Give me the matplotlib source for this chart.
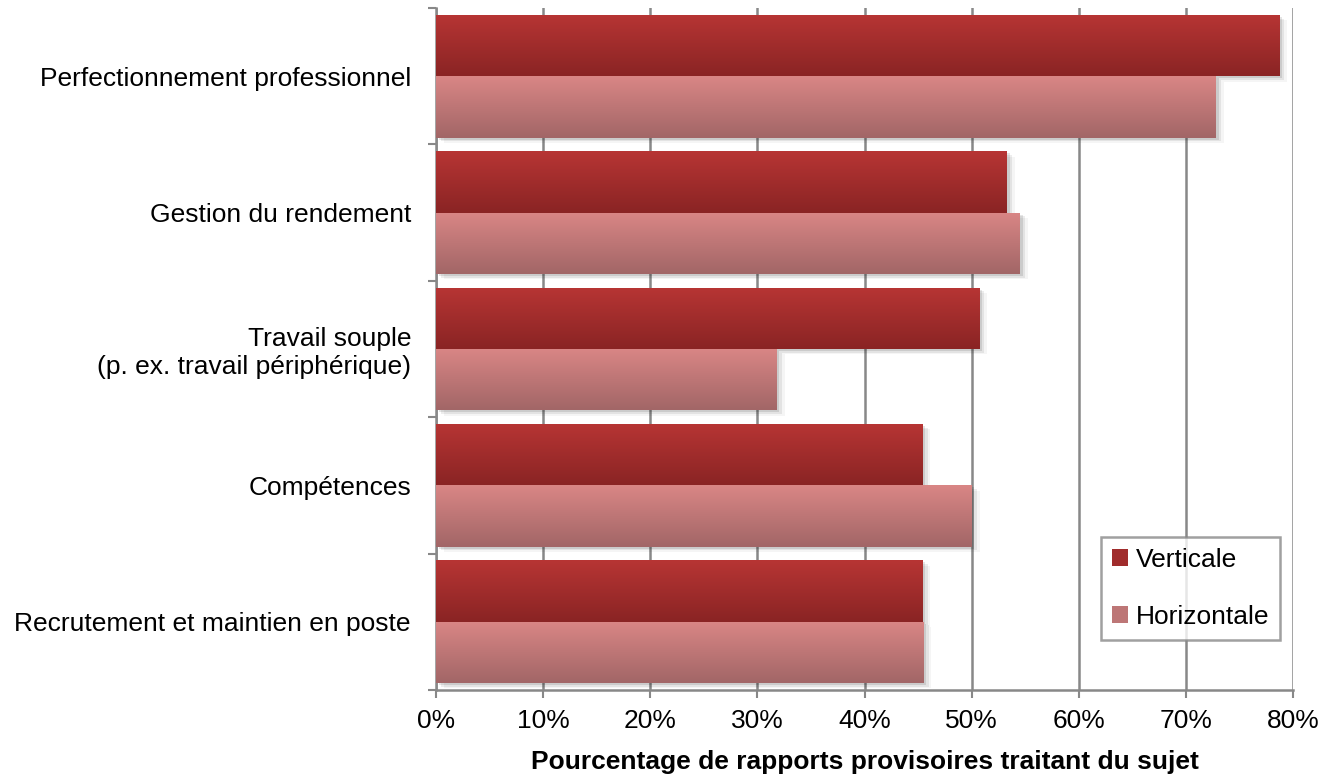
import numpy as np
import matplotlib.pyplot as plt
from matplotlib.colors import LinearSegmentedColormap
from matplotlib.patches import Patch

plt.rcParams['font.family'] = ['Liberation Sans', 'DejaVu Sans']

categories = [
    "Perfectionnement professionnel",
    "Gestion du rendement",
    "Travail souple\n(p. ex. travail périphérique)",
    "Compétences",
    "Recrutement et maintien en poste",
]
verticale = [78.7, 53.3, 50.7, 45.4, 45.4]
horizontale = [72.8, 54.5, 31.8, 50.0, 45.5]
series_names = ["Verticale", "Horizontale"]
xticks = [0, 10, 20, 30, 40, 50, 60, 70, 80]

# colour ramps: index 0 = top edge of a bar, 1 = bottom edge
grad_v = LinearSegmentedColormap.from_list("gv", ["#B73534", "#8A2424"])
grad_h = LinearSegmentedColormap.from_list("gh", ["#D98685", "#A26667"])

fig = plt.figure(figsize=(13.37, 7.8), dpi=100)
ax = fig.add_axes([436 / 1337, 90 / 780, (1293 - 436) / 1337, (772 - 90) / 780])

n = len(categories)
y = np.arange(n)
h = 0.45


def gradient_bars(ypos, vals, cmap):
    bars = ax.barh(ypos, vals, height=h, color=cmap(0.5), zorder=3)
    grad = np.linspace(0, 1, 64).reshape(-1, 1)
    for b in bars:
        x0, y0 = b.get_x(), b.get_y()
        w, hh = b.get_width(), b.get_height()
        # soft drop shadow
        for k, a in enumerate([0.10, 0.07, 0.04]):
            off = 0.25 + 0.25 * k
            ax.add_patch(plt.Rectangle((x0 + off, y0 + 0.015 + 0.012 * k), w, hh,
                                       color="black", alpha=a, lw=0, zorder=2))
        # row 0 of the image sits at the smaller y value (top of the bar on screen)
        im = ax.imshow(grad, cmap=cmap, aspect="auto",
                       extent=[x0, x0 + w, y0 + hh, y0], origin="upper",
                       zorder=3.5, interpolation="bicubic")
        im.set_clip_path(b)
    return bars


gradient_bars(y - h / 2, verticale, grad_v)
gradient_bars(y + h / 2, horizontale, grad_h)

ax.set_xlim(0, 80)
ax.set_ylim(n - 0.5, -0.5)
ax.set_xticks(xticks)
ax.set_xticklabels([f"{t}%" for t in xticks], fontsize=19)
ax.set_yticks(y)
ax.set_yticklabels(categories, fontsize=19, ha="right")
ax.tick_params(axis="y", length=0, pad=18)
ax.set_yticks(np.arange(n + 1) - 0.5, minor=True)
ax.tick_params(axis="y", which="minor", length=6, width=1.5, color="#888888")
ax.tick_params(axis="x", length=6, width=1.5, color="#888888", pad=8)

ax.grid(axis="x", color="#888888", lw=1.8, zorder=1)
ax.set_axisbelow(True)
for s in ["top", "right"]:
    ax.spines[s].set_visible(False)
for s in ["left", "bottom"]:
    ax.spines[s].set_color("#888888")
    ax.spines[s].set_linewidth(1.8)

ax.set_xlabel("Pourcentage de rapports provisoires traitant du sujet",
              fontsize=19, fontweight="bold", labelpad=12)

handles = [Patch(facecolor=grad_v(0.5), label=series_names[0]),
           Patch(facecolor=grad_h(0.5), label=series_names[1])]
leg = ax.legend(handles=handles, loc="lower right", bbox_to_anchor=(0.985, 0.073),
                fontsize=19, frameon=True, fancybox=False, handlelength=0.6,
                handleheight=0.6, handletextpad=0.3, labelspacing=1.25,
                borderpad=0.42, borderaxespad=0)
leg.get_frame().set_edgecolor("#888888")
leg.get_frame().set_linewidth(1.8)
leg.set_zorder(10)

fig.savefig("out.png", dpi=100, facecolor="white")
